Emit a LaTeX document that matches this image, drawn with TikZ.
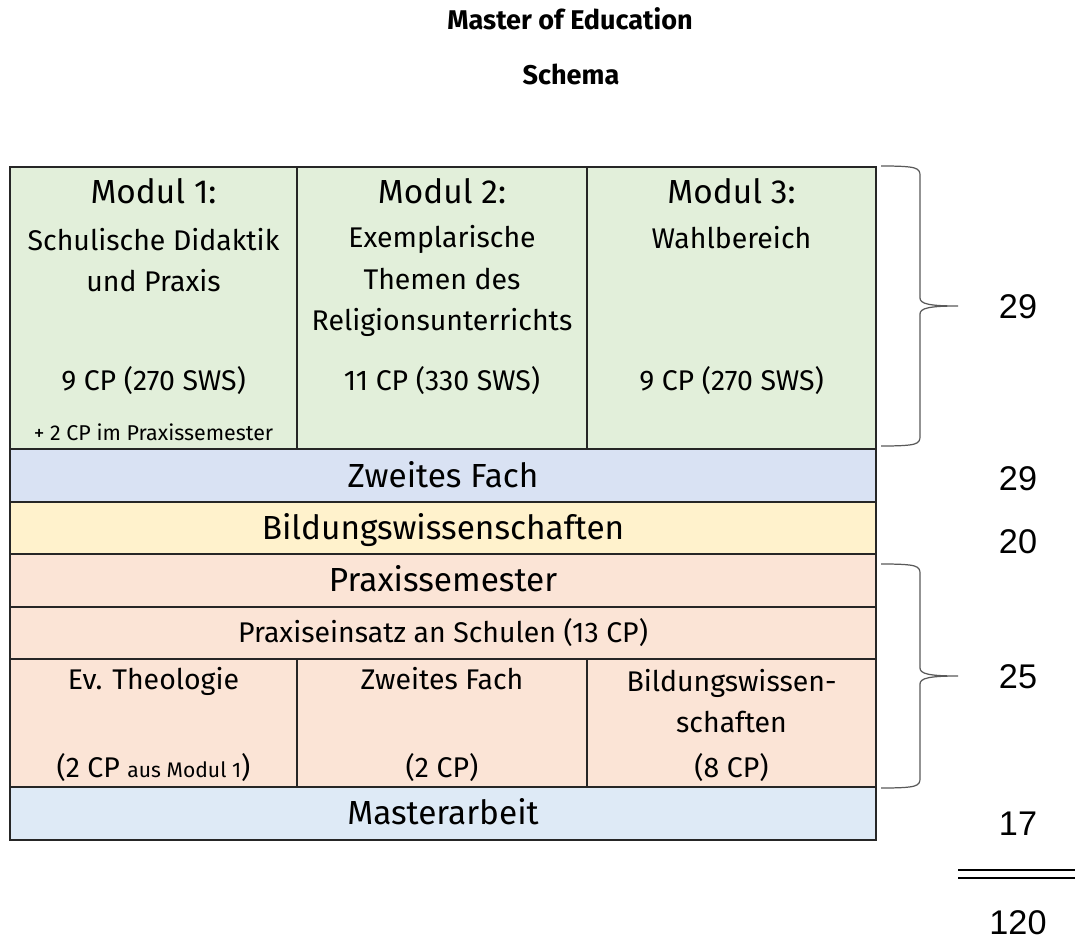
\documentclass[tikz,border=0pt]{standalone}
\usepackage{fontspec}
\setmainfont{Fira Sans}
\newfontfamily\zahlfont{Liberation Sans}

\begin{document}
\begin{tikzpicture}[x=0.02cm, y=-0.02cm,
        zelle/.style={draw=black!85, line width=0.8pt},
        gross/.style={font=\fontsize{19}{24}\selectfont, inner sep=0pt, text height=13pt, text depth=0pt},
        mittel/.style={font=\fontsize{16.2}{23.8}\selectfont, inner sep=0pt, align=center},
        klein/.style={font=\fontsize{12.2}{14}\selectfont, inner sep=0pt, text height=8.5pt, text depth=0pt},
        titel/.style={font=\bfseries\fontsize{15.4}{18}\selectfont, inner sep=0pt, text height=10.7pt, text depth=0pt},
        summe/.style={font=\zahlfont\fontsize{19.5}{24}\selectfont, inner sep=0pt, text height=14pt, text depth=0pt},
        klammer/.style={draw=black!65, line width=0.7pt}]
        \colorlet{gruen}{rgb,255:red,226;green,239;blue,218}
        \colorlet{blau}{rgb,255:red,217;green,226;blue,243}
        \colorlet{hellblau}{rgb,255:red,222;green,234;blue,246}
        \colorlet{gelb}{rgb,255:red,255;green,242;blue,204}
        \colorlet{rosa}{rgb,255:red,251;green,228;blue,214}

        \useasboundingbox (0,0) rectangle (1075,939);

        % Kopf
        \node[titel] (titel) at (570,20) {Master of Education};
        \node[titel] (schema) at (571,75) {Schema};

        % Module
        \filldraw[zelle, fill=gruen] (10,167) rectangle (297,449);
        \filldraw[zelle, fill=gruen] (297,167) rectangle (587,449);
        \filldraw[zelle, fill=gruen] (587,167) rectangle (876,449);

        \node[gross] (m1) at (153.5,192) {Modul 1:};
        \node[mittel] (m1text) at (153.5,260) {Schulische Didaktik\\und Praxis};
        \node[mittel, text height=11.3pt, text depth=0pt] (m1cp) at (153.5,381) {9 CP (270 SWS)};
        \node[klein] (m1plus) at (153.5,433) {+ 2 CP im Praxissemester};

        \node[gross] (m2) at (442,192) {Modul 2:};
        \node[mittel] (m2text) at (442,281) {Exemplarische\\Themen des\\Religionsunterrichts};
        \node[mittel, text height=11.3pt, text depth=0pt] (m2cp) at (442,381) {11 CP (330 SWS)};

        \node[gross] (m3) at (731.5,192) {Modul 3:};
        \node[mittel, text height=11.3pt, text depth=0pt] (m3text) at (731.5,239) {Wahlbereich};
        \node[mittel, text height=11.3pt, text depth=0pt] (m3cp) at (731.5,381) {9 CP (270 SWS)};

        % Zeilen
        \filldraw[zelle, fill=blau] (10,449) rectangle (876,502);
        \filldraw[zelle, fill=gelb] (10,502) rectangle (876,554);
        \filldraw[zelle, fill=rosa] (10,554) rectangle (876,607);
        \filldraw[zelle, fill=rosa] (10,607) rectangle (876,659);
        \filldraw[zelle, fill=rosa] (10,659) rectangle (297,787);
        \filldraw[zelle, fill=rosa] (297,659) rectangle (587,787);
        \filldraw[zelle, fill=rosa] (587,659) rectangle (876,787);
        \filldraw[zelle, fill=hellblau] (10,787) rectangle (876,840);

        \node[gross] (fach) at (443,476) {Zweites Fach};
        \node[gross] (bw) at (443,528) {Bildungswissenschaften};
        \node[gross] (ps) at (443,580) {Praxissemester};
        \node[mittel, text height=11.3pt, text depth=0pt] (einsatz) at (443,633) {Praxiseinsatz an Schulen (13 CP)};

        \node[mittel, text height=11.3pt, text depth=0pt] (ev) at (153.5,680) {Ev. Theologie};
        \node[mittel, text height=11.3pt, text depth=0pt] (evcp) at (153.5,768) {(2 CP {\fontsize{12}{14}\selectfont aus Modul 1})};
        \node[mittel, text height=11.3pt, text depth=0pt] (zf) at (442,680) {Zweites Fach};
        \node[mittel, text height=11.3pt, text depth=0pt] (zfcp) at (442,768) {(2 CP)};
        \node[mittel] (bwtext) at (731.5,701) {Bildungswissen-\\schaften};
        \node[mittel, text height=11.3pt, text depth=0pt] (bwcp) at (731.5,768) {(8 CP)};

        \node[gross] (ma) at (443,813) {Masterarbeit};

        % Klammern und Summen
        \coordinate (k1oben) at (881,166);
        \coordinate (k2oben) at (881,564);
        \draw[klammer] (k1oben) .. controls +(37,0) and +(0,-8) .. ++(39,10) -- ++(0,122)
            .. controls +(0,6) and +(-28,0) .. ++(38,8) .. controls +(-28,0) and +(0,-6) .. ++(-38,8)
            -- ++(0,122) .. controls +(0,8) and +(37,0) .. ++(-39,10);
        \draw[klammer] (k2oben) .. controls +(37,0) and +(0,-8) .. ++(39,10) -- ++(0,94)
            .. controls +(0,6) and +(-28,0) .. ++(38,8) .. controls +(-28,0) and +(0,-6) .. ++(-38,8)
            -- ++(0,94) .. controls +(0,8) and +(37,0) .. ++(-39,10);

        \node[summe] (s1) at (1018,306) {29};
        \node[summe] (s2) at (1018,478) {29};
        \node[summe] (s3) at (1018,541) {20};
        \node[summe] (s4) at (1018,676) {25};
        \node[summe] (s5) at (1018,823) {17};

        \coordinate (strichA) at (958,874);
        \coordinate (strichB) at (1075,874);
        \draw[double, double distance=3.4pt, line width=1.2pt] (strichA) -- (strichB);

        \node[summe] (gesamt) at (1018,922) {120};
    \end{tikzpicture}
\end{document}
